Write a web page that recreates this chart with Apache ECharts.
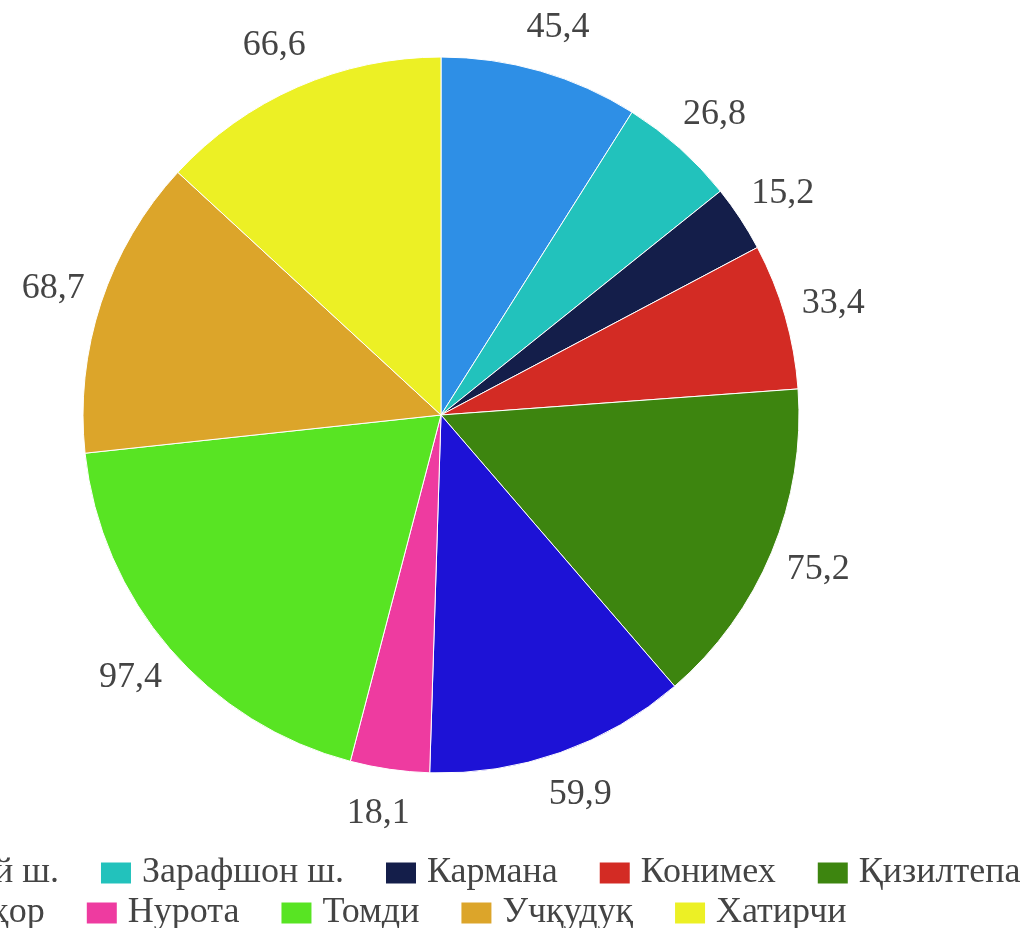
<!DOCTYPE html>
<html><head><meta charset="utf-8">
<script src="https://cdn.jsdelivr.net/npm/echarts@6/dist/echarts.min.js"></script>
<style>html,body{margin:0;padding:0;overflow:hidden;background:#fff;width:1024px;height:928px;position:relative}
#c{position:absolute;left:-200px;top:0;width:1500px;height:928px}</style>
</head><body><div id="c"></div>
<script>
const categories = ['Навоий ш.', 'Зарафшон ш.', 'Кармана', 'Конимех', 'Қизилтепа', 'Навбаҳор', 'Нурота', 'Томди', 'Учқудуқ', 'Хатирчи'];
const values = [45.4, 26.8, 15.2, 33.4, 75.2, 59.9, 18.1, 97.4, 68.7, 66.6];
const colors = ['#2E8FE6', '#22C2BC', '#141E4A', '#D32B24', '#3D850F', '#1D12D6', '#EE3BA0', '#58E423', '#DCA52A', '#ECF025'];
const legendRow1 = categories.slice(0, 5);
const legendRow2 = categories.slice(5);

const FONT = '"Liberation Serif", "Times New Roman", serif';
const chart = echarts.init(document.getElementById('c'), null, {renderer: 'canvas'});
const legendBase = {
  orient: 'horizontal', left: 50, itemWidth: 32, itemHeight: 23, itemGap: 40,
  icon: 'rect',
  textStyle: {fontFamily: FONT, fontSize: 36, color: '#444', padding: [0, 0, 0, 5]}
};
chart.setOption({
  animation: false,
  color: colors,
  legend: [
    Object.assign({}, legendBase, {top: 850, data: legendRow1}),
    Object.assign({}, legendBase, {top: 890, data: legendRow2})
  ],
  series: [{
    type: 'pie',
    center: [641, 415],
    radius: 358,
    startAngle: 90,
    clockwise: true,
    avoidLabelOverlap: false,
    itemStyle: {borderColor: '#fff', borderWidth: 1},
    label: {
      show: true, position: 'outside', fontFamily: FONT, fontSize: 36, color: '#444',
      formatter: p => String(p.value).replace('.', ',')
    },
    labelLine: {show: false, length: 45, length2: 0},
    labelLayout: () => ({align: 'center'}),
    emphasis: {disabled: true},
    data: categories.map((n, i) => ({name: n, value: values[i]}))
  }]
});
</script></body></html>
